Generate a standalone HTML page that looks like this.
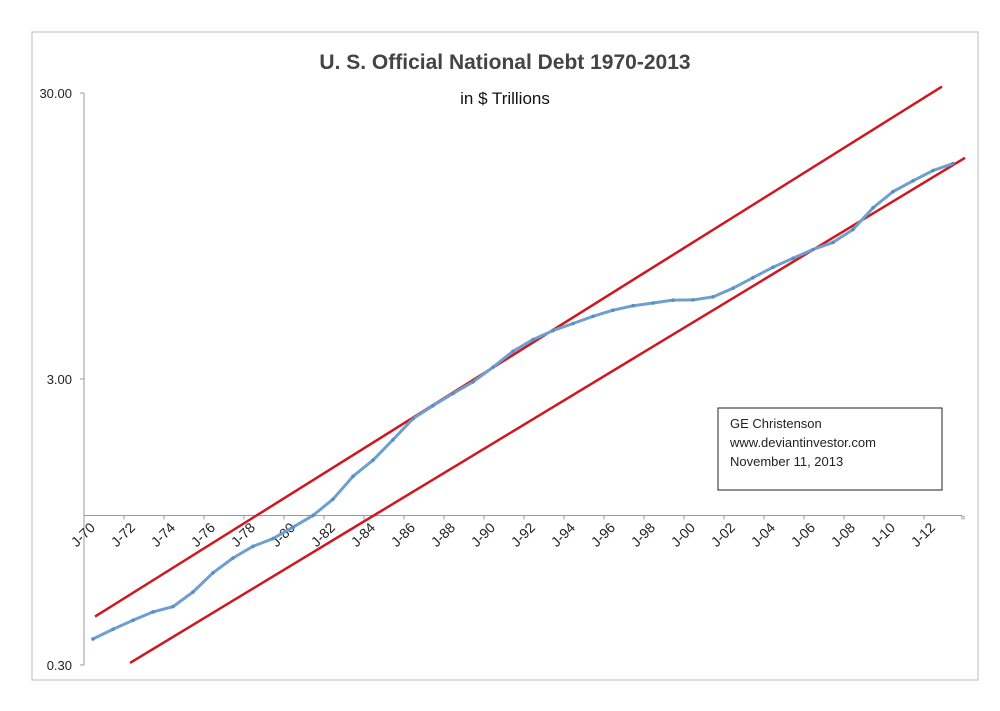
<!DOCTYPE html>
<html><head><meta charset="utf-8"><style>
body{margin:0;background:#fff;}
svg{display:block;font-family:"Liberation Sans",sans-serif;}
</style></head><body>
<svg id="c" width="1000" height="711">
<rect x="32" y="32" width="946" height="648" fill="#fff" stroke="#bbb"/>
<text x="505" y="69" text-anchor="middle" font-size="21" font-weight="bold" fill="#444">U. S. Official National Debt 1970-2013</text>
<text x="505" y="104" text-anchor="middle" font-size="17" fill="#111">in $ Trillions</text>
<g>
<rect x="718" y="408" width="224" height="82" fill="#fff" stroke="#222"/>
<text x="730" y="428" font-size="13" fill="#222">GE Christenson</text>
<text x="730" y="447" font-size="13" fill="#222">www.deviantinvestor.com</text>
<text x="730" y="466" font-size="13" fill="#222">November 11, 2013</text>
</g>
</svg>
<script>
const years=[1970,1971,1972,1973,1974,1975,1976,1977,1978,1979,1980,1981,1982,1983,1984,1985,1986,1987,1988,1989,1990,1991,1992,1993,1994,1995,1996,1997,1998,1999,2000,2001,2002,2003,2004,2005,2006,2007,2008,2009,2010,2011,2012,2013];
const debt=[0.37,0.40,0.43,0.46,0.48,0.54,0.63,0.71,0.78,0.83,0.91,1.0,1.14,1.37,1.56,1.84,2.18,2.42,2.67,2.93,3.3,3.75,4.12,4.43,4.69,4.97,5.22,5.41,5.53,5.66,5.67,5.81,6.23,6.78,7.38,7.93,8.51,9.01,10.0,11.9,13.56,14.79,16.07,17.0];
const upperTrendT=[1970.55,2012.9];
const upperTrendV=[0.443,31.6];
const lowerTrendT=[1972.3,2014.05];
const lowerTrendV=[0.305,17.8];
const yTicks=[0.30,3.00,30.00];
const yTickLabels=["0.30","3.00","30.00"];
const xTickLabels=["J-70","J-72","J-74","J-76","J-78","J-80","J-82","J-84","J-86","J-88","J-90","J-92","J-94","J-96","J-98","J-00","J-02","J-04","J-06","J-08","J-10","J-12"];
const NS="http://www.w3.org/2000/svg";
const svg=document.getElementById('c');
const xs=t=>84+20*(t-1970);
const ys=v=>379-286*Math.log10(v/3);
function mk(tag,attrs,parent){const e=document.createElementNS(NS,tag);for(const k in attrs)e.setAttribute(k,attrs[k]);(parent||svg).appendChild(e);return e;}
const ya=mk('line',{x1:84,y1:ys(30),x2:84,y2:ys(0.3),stroke:'#999'});


yTicks.forEach((v,i)=>{
 mk('line',{x1:80,x2:84,y1:ys(v),y2:ys(v),stroke:'#999'});
 const t=mk('text',{x:72,y:ys(v)+5,'text-anchor':'end','font-size':13,fill:'#222'});
 t.textContent=yTickLabels[i];
 
 
});
const xa=mk('line',{x1:84,y1:ys(1),x2:962,y2:ys(1),stroke:'#999'});


for(let y=1970;y<=2014;y+=2){mk('line',{x1:xs(y),x2:xs(y),y1:ys(1),y2:ys(1)+4,stroke:'#999'});}
mk('line',{x1:962,x2:962,y1:ys(1),y2:ys(1)+4,stroke:'#999'});
xTickLabels.forEach((l,i)=>{
 const x=xs(1970+2*i)+12,y=ys(1)+13;
 const t=mk('text',{x:x,y:y,'text-anchor':'end','font-size':14,fill:'#222',transform:`rotate(-45 ${x} ${y})`});
 t.textContent=l;
 
 
});
const up=mk('line',{x1:xs(upperTrendT[0]),y1:ys(upperTrendV[0]),x2:xs(upperTrendT[1]),y2:ys(upperTrendV[1]),stroke:'#d0161e','stroke-width':2.5});


const lo=mk('line',{x1:xs(lowerTrendT[0]),y1:ys(lowerTrendV[0]),x2:xs(lowerTrendT[1]),y2:ys(lowerTrendV[1]),stroke:'#d0161e','stroke-width':2.5});


const pts=years.map((y,i)=>[xs(y+0.45),ys(debt[i])]);
const pl=mk('polyline',{points:pts.map(p=>p.join(',')).join(' '),fill:'none',stroke:'#6d9fcf','stroke-width':3,'stroke-linejoin':'round'});


pts.forEach(p=>{
 const c=mk('circle',{cx:p[0],cy:p[1],r:1.8,fill:'#5a8cc0'});
 
 
});
</script>
</body></html>
